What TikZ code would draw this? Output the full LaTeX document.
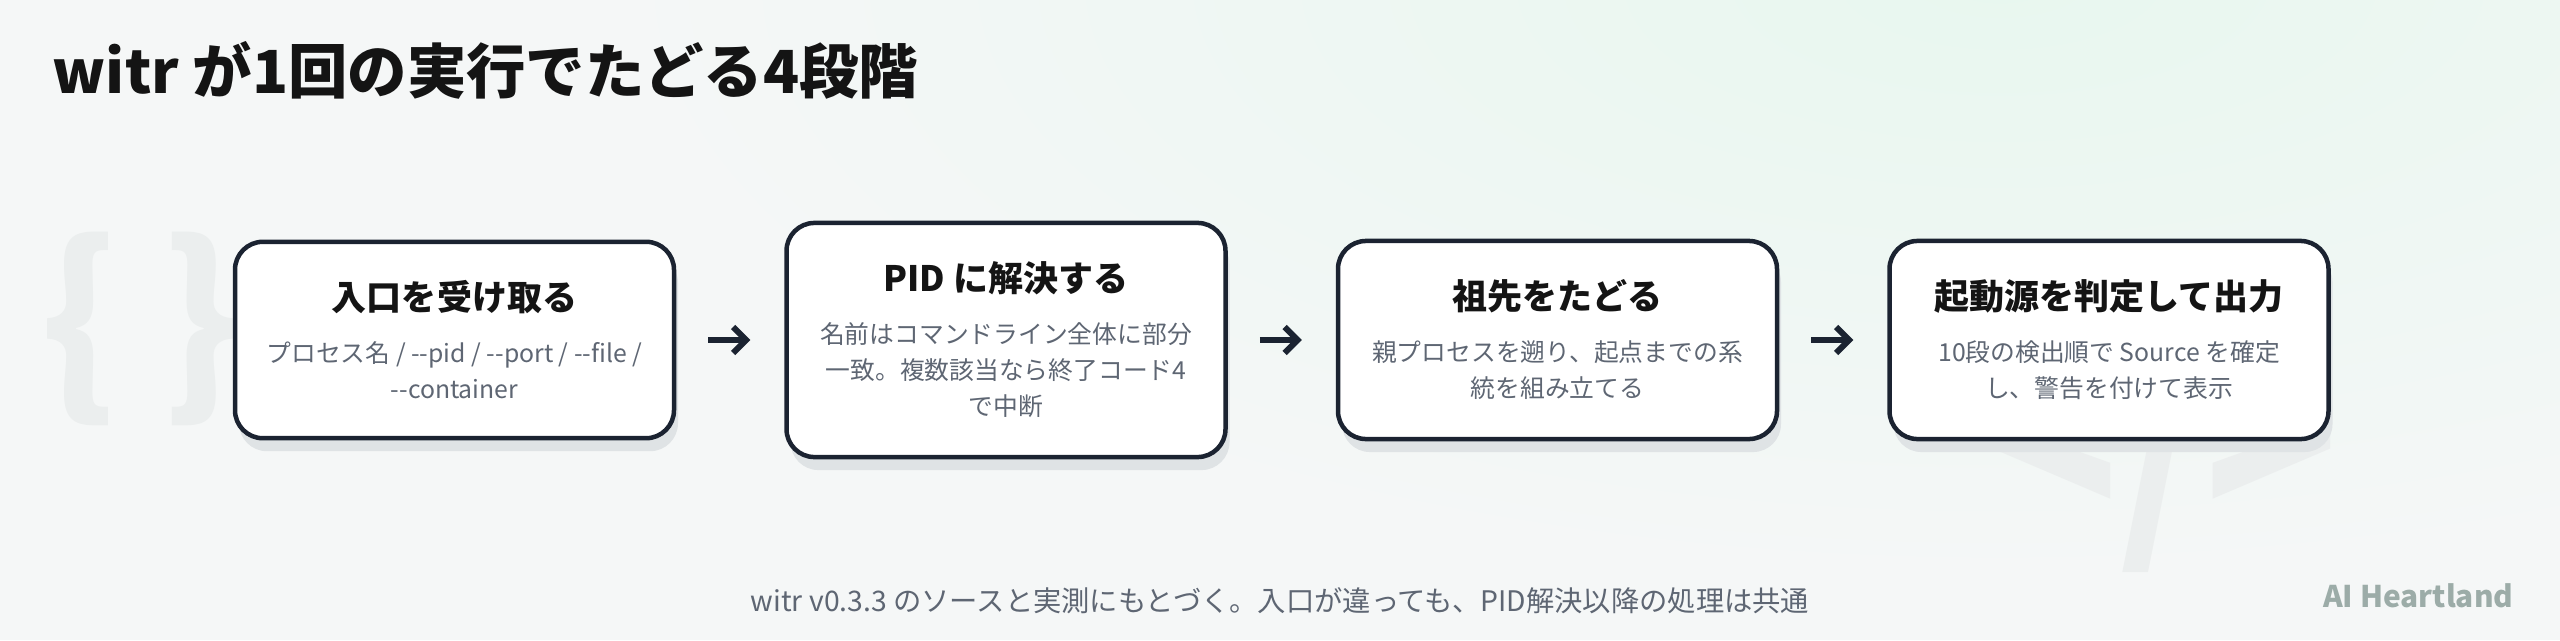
\documentclass[tikz,border=0pt]{standalone}
\usepackage{fontspec}
\setmainfont{Noto Sans CJK JP}
\usetikzlibrary{positioning,arrows.meta,shadows}

\definecolor{ink}{HTML}{1B2331}
\definecolor{txt}{HTML}{141414}
\definecolor{muted}{HTML}{5E6673}
\definecolor{bgc}{HTML}{F5F7F7}
\definecolor{mint}{HTML}{E8F7EF}
\definecolor{deco}{HTML}{EBEEEE}
\definecolor{shadowc}{HTML}{DFE3E5}
\definecolor{brand}{HTML}{9CACA8}

% two hyphens without the en-dash ligature
\newcommand{\dd}{-\kern0pt-}
\newcommand{\steptitle}[1]{{\bfseries\fontsize{9.96}{12}\selectfont\color{txt}#1}}

\begin{document}
\begin{tikzpicture}[
  card/.style={draw=ink, line width=0.045cm, fill=white, rounded corners=0.28cm,
    minimum width=4.39cm, inner xsep=0.1cm, inner ysep=0.39cm, align=center,
    font=\fontsize{7.05}{10.24}\selectfont, text=muted,
    drop shadow={shadow xshift=0.04cm, shadow yshift=-0.13cm, fill=shadowc, opacity=1}},
  flow/.style={draw=ink, line width=0.06cm, line join=miter,
    -{Straight Barb[length=0.13cm, width=0.26cm]},
    shorten <=0.32cm, shorten >=0.34cm},
  deco/.style={text=deco, font=\bfseries\fontsize{56}{56}\selectfont},
]
  \useasboundingbox (0,0) rectangle (25.6,6.4);

  % Background
  \begin{scope}
    \clip (0,0) rectangle (25.6,6.4);
    \fill[bgc] (0,0) rectangle (25.6,6.4);
    \shade[inner color=mint, outer color=bgc] (20,6.6) ellipse (14 and 6);
  \end{scope}

  % Title
  \node[anchor=base west, inner sep=0pt, text=txt, font=\bfseries\fontsize{16.9}{20}\selectfont] (title)
    at (0.52,5.47) {witr が1回の実行でたどる4段階};

  % Faint code glyphs behind the cards
  \node[deco] (lbrace) at (0.80,3.11) {\{};
  \node[deco] (rbrace) at (2.01,3.11) {\}};
  \node[deco, font=\bfseries\fontsize{70}{70}\selectfont] (code) at (21.62,1.90)
    {\scalebox{0.9}[1]{</>}};

  % Steps
  \node[card] (s1) at (4.545,3.0)
    {\steptitle{入口を受け取る}\\[4.55pt]
     プロセス名 / \dd pid / \dd port / \dd file /\\ \dd container};
  \node[card, right=1.08cm of s1] (s2)
    {\steptitle{PID に解決する}\\[4.55pt]
     名前はコマンドライン全体に部分\\ 一致。複数該当なら終了コード4\\ で中断};
  \node[card, right=1.08cm of s2] (s3)
    {\steptitle{祖先をたどる}\\[4.55pt]
     親プロセスを遡り、起点までの系\\ 統を組み立てる};
  \node[card, right=1.08cm of s3] (s4)
    {\steptitle{起動源を判定して出力}\\[4.55pt]
     10段の検出順で Source を確定\\ し、警告を付けて表示};

  % Arrows
  \draw[flow] (s1.east) -- (s2.west);
  \draw[flow] (s2.east) -- (s3.west);
  \draw[flow] (s3.east) -- (s4.west);

  % Footer
  \node[text=muted, font=\fontsize{8.05}{10}\selectfont] (note) at (12.8,0.39)
    {witr v0.3.3 のソースと実測にもとづく。入口が違っても、PID解決以降の処理は共通};
  \node[anchor=base east, inner sep=0pt, text=brand, font=\bfseries\fontsize{8.5}{10}\selectfont] (brand)
    at (25.14,0.33) {AI Heartland};
\end{tikzpicture}
\end{document}
